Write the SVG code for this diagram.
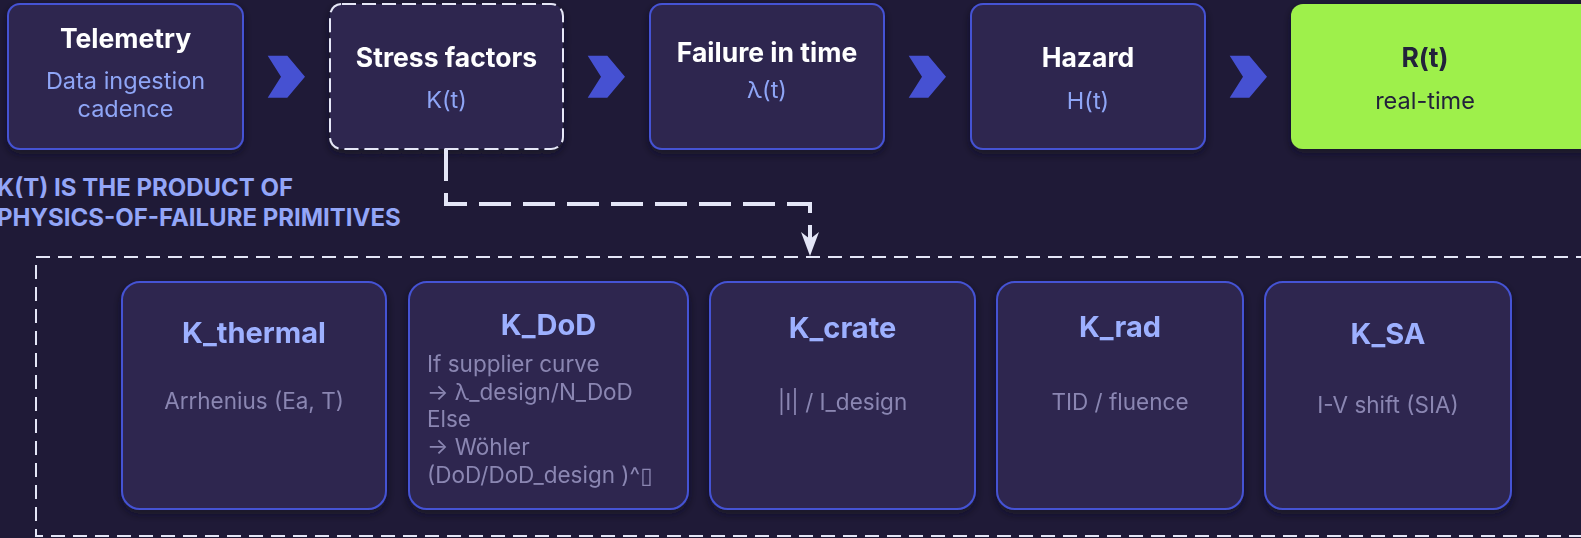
<svg xmlns="http://www.w3.org/2000/svg" width="1581" height="538" viewBox="0 0 1581 538">
  <style>
    .card { fill: #2d2850; stroke: #4552d4; stroke-width: 2; }
    .stress { fill: #2d2850; stroke: #e6e7f7; stroke-width: 2; stroke-dasharray: 14 6; }
    .final { fill: #9ef04b; }
    .title { font-family: Inter, "Noto Sans", "DejaVu Sans", sans-serif; font-weight: 700; font-size: 26.5px; fill: #ffffff; text-anchor: middle; dominant-baseline: central; }
    .sub { font-family: Inter, "Noto Sans", "DejaVu Sans", sans-serif; font-size: 23.5px; fill: #8fa5f6; text-anchor: middle; dominant-baseline: central; }
    .dark { fill: #23213a; }
    .ktitle { font-family: Inter, "Noto Sans", "DejaVu Sans", sans-serif; font-weight: 700; font-size: 29px; fill: #9db0ff; text-anchor: middle; dominant-baseline: central; }
    .kbody { font-family: Inter, "Noto Sans", "DejaVu Sans", sans-serif; font-size: 22.5px; fill: #8b86b2; text-anchor: middle; dominant-baseline: central; }
    .kleft { text-anchor: start; }
    .note { font-family: Inter, "Noto Sans", "DejaVu Sans", sans-serif; font-weight: 700; font-size: 24px; fill: #93a6f8; dominant-baseline: central; }
    .chev { fill: #4651d2; }
    .flow { fill: none; stroke: #e4e6f7; stroke-width: 4; stroke-dasharray: 32 12; }
    .frame { fill: none; stroke: #e4e6f7; stroke-width: 2; stroke-dasharray: 14 8; }
  </style>
  <defs>
    <filter id="shadow" x="-10%" y="-10%" width="120%" height="130%">
      <feDropShadow dx="0" dy="4" stdDeviation="4" flood-color="#0d0a1c" flood-opacity="0.6"/>
    </filter>
  </defs>

  <rect width="1581" height="538" fill="#1f1a37"/>

  <!-- pipeline stages -->
  <g id="telemetry" filter="url(#shadow)">
    <rect class="card" x="8" y="4" width="235" height="145" rx="12"/>
    <text class="title" x="125.5" y="38">Telemetry</text>
    <text class="sub" x="125.5" y="80">Data ingestion</text>
    <text class="sub" x="125.5" y="108">cadence</text>
  </g>
  <g id="stress-factors" filter="url(#shadow)">
    <rect class="stress" x="330" y="4" width="233" height="145" rx="12"/>
    <text class="title" x="446.5" y="57">Stress factors</text>
    <text class="sub" x="446.5" y="99">K(t)</text>
  </g>
  <g id="failure-in-time" filter="url(#shadow)">
    <rect class="card" x="650" y="4" width="234" height="145" rx="12"/>
    <text class="title" x="767" y="52">Failure in time</text>
    <text class="sub" x="767" y="89">λ(t)</text>
  </g>
  <g id="hazard" filter="url(#shadow)">
    <rect class="card" x="971" y="4" width="234" height="145" rx="12"/>
    <text class="title" x="1088" y="57">Hazard</text>
    <text class="sub" x="1088" y="100">H(t)</text>
  </g>
  <g id="reliability" filter="url(#shadow)">
    <rect class="final" x="1291" y="4" width="320" height="145" rx="12"/>
    <text class="title dark" x="1425" y="57">R(t)</text>
    <text class="sub dark" x="1425" y="100">real-time</text>
  </g>

  <!-- stage chevrons -->
  <g id="chevrons">
    <polygon class="chev" points="267.7,55.7 287.3,55.7 305,76.7 287.3,97.7 267.7,97.7 281,76.7"/>
    <polygon class="chev" points="587.7,55.7 607.3,55.7 625,76.7 607.3,97.7 587.7,97.7 601,76.7"/>
    <polygon class="chev" points="908.7,55.7 928.3,55.7 946,76.7 928.3,97.7 908.7,97.7 922,76.7"/>
    <polygon class="chev" points="1229.7,55.7 1249.3,55.7 1267,76.7 1249.3,97.7 1229.7,97.7 1243,76.7"/>
  </g>

  <!-- explanatory note -->
  <g id="note">
    <text class="note" x="-3" y="187.5">K(T) IS THE PRODUCT OF</text>
    <text class="note" x="-3" y="217">PHYSICS-OF-FAILURE PRIMITIVES</text>
  </g>

  <!-- connectors -->
  <g id="connectors">
    <path class="flow" d="M446,149 V204 H810 V248"/>
    <path d="M801,232 L810,256 L819,232 L810,239 Z" fill="#e4e6f7"/>
  </g>

  <!-- primitives container -->
  <g id="primitives">
    <rect class="frame" x="36" y="257" width="1580" height="279"/>
  </g>

  <g id="k-thermal" filter="url(#shadow)">
    <rect class="card" x="122" y="282" width="264" height="227" rx="18"/>
    <text class="ktitle" x="254" y="332">K_thermal</text>
    <text class="kbody" x="254" y="400">Arrhenius (Ea, T)</text>
  </g>
  <g id="k-dod" filter="url(#shadow)">
    <rect class="card" x="409" y="282" width="279" height="227" rx="18"/>
    <text class="ktitle" x="548.5" y="324">K_DoD</text>
    <text class="kbody kleft" x="427" y="363">If supplier curve</text>
    <text class="kbody kleft" x="427" y="391">→ λ_design/N_DoD</text>
    <text class="kbody kleft" x="427" y="418">Else</text>
    <text class="kbody kleft" x="427" y="446">→ Wöhler</text>
    <text class="kbody kleft" x="427" y="474">(DoD/DoD_design )^▯</text>
  </g>
  <g id="k-crate" filter="url(#shadow)">
    <rect class="card" x="710" y="282" width="265" height="227" rx="18"/>
    <text class="ktitle" x="842.5" y="327">K_crate</text>
    <text class="kbody" x="842.5" y="401">|I| / I_design</text>
  </g>
  <g id="k-rad" filter="url(#shadow)">
    <rect class="card" x="997" y="282" width="246" height="227" rx="18"/>
    <text class="ktitle" x="1120" y="326">K_rad</text>
    <text class="kbody" x="1120" y="401">TID / fluence</text>
  </g>
  <g id="k-sa" filter="url(#shadow)">
    <rect class="card" x="1265" y="282" width="246" height="227" rx="18"/>
    <text class="ktitle" x="1388" y="333">K_SA</text>
    <text class="kbody" x="1388" y="404">I-V shift (SIA)</text>
  </g>
</svg>
